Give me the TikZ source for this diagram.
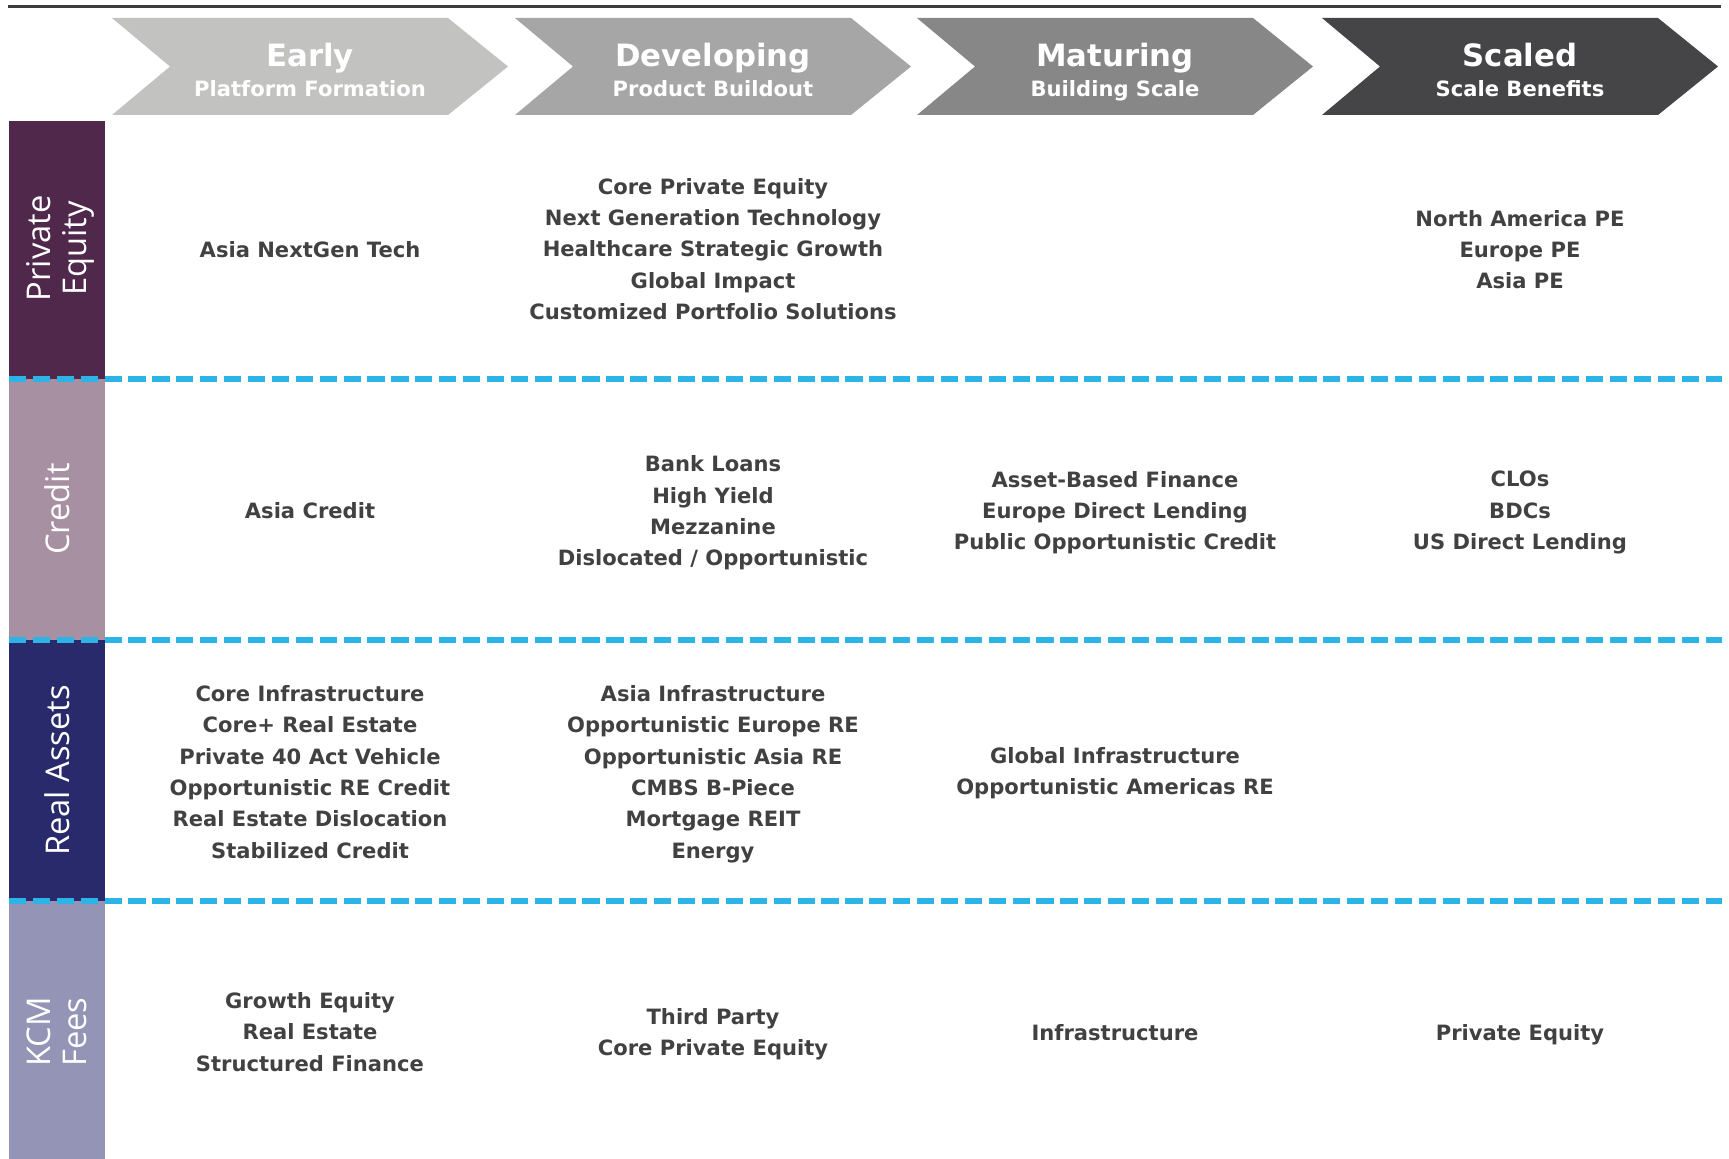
\documentclass[tikz,border=0pt]{standalone}
\usepackage{fontspec}
\setmainfont{DejaVu Sans}
\newfontfamily\sidefont{Open Sans}
\usepackage{tikz}
\usepackage{xcolor}
\definecolor{stageEarly}{HTML}{C2C2C1}
\definecolor{stageDevelop}{HTML}{A6A6A6}
\definecolor{stageMature}{HTML}{878787}
\definecolor{stageScaled}{HTML}{454547}
\definecolor{rowPE}{HTML}{50284B}
\definecolor{rowCredit}{HTML}{A690A2}
\definecolor{rowAssets}{HTML}{292A6B}
\definecolor{rowFees}{HTML}{9394B6}
\definecolor{cellGray}{HTML}{414141}
\definecolor{ruleGray}{HTML}{3C3C3C}
\definecolor{dashBlue}{HTML}{2DB4E7}

\begin{document}
\begin{tikzpicture}
		[x=0.02cm,y=-0.02cm,
		titleDecorate/.style={text=white,anchor=base,inner sep=0pt,font=\bfseries\fontsize{17.5}{20}\selectfont},
		subDecorate/.style={text=white,anchor=base,inner sep=0pt,font=\bfseries\fontsize{12}{14}\selectfont},
		cellDecorate/.style={text=cellGray,align=center,inner sep=0pt,font=\bfseries\fontsize{12}{17.8}\selectfont,
			execute at begin node=\strut,execute at end node=\strut},
		sideDecorate/.style={text=white,rotate=90,align=center,inner sep=0pt,font=\sidefont\fontsize{18.6}{20.2}\selectfont,
			execute at begin node=\strut,execute at end node=\strut},
		dashDecorate/.style={draw=dashBlue,line width=3.1pt,dash pattern=on 9.8pt off 3.8pt}]
		\useasboundingbox (0,0) rectangle (1729,1159);
		%% top rule
		\draw[ruleGray,line width=1.9pt] (8,6.7) -- (1721,6.7);
		%% stage chevrons
		\foreach \stagename/\lx/\col/\head/\tagline in {
			early/112/stageEarly/Early/Platform Formation,
			develop/515/stageDevelop/Developing/Product Buildout,
			mature/917/stageMature/Maturing/Building Scale,
			scaled/1322/stageScaled/Scaled/Scale Benefits}
		{
			\fill[\col] (\lx,18) -- ++(336,0) -- ++(60,48.5) -- ++(-60,48.5) -- ++(-336,0) -- ++(58,-48.5) -- cycle;
			\node[titleDecorate] (\stagename) at (\lx+198,66.7) {\head};
			\node[subDecorate] (sub\stagename) at (\lx+198,96.7) {\tagline};
		}
		%% row labels
		\foreach \rowname/\ytop/\ybot/\col/\ymid/\txt in {
			pe/121/379/rowPE/248.4/Private\\Equity,
			credit/379/640/rowCredit/509/Credit,
			assets/640/901/rowAssets/770.5/Real Assets,
			fees/901/1159/rowFees/1032/KCM\\Fees}
		{
			\fill[\col] (9,\ytop) rectangle (105,\ybot);
			\node[sideDecorate] (\rowname) at (62,\ymid) {\txt};
		}
		%% separators
		\foreach \y in {379,640,901}
		{
			\draw[dashDecorate] (9,\y) -- (1722,\y);
		}
		%% private equity
		\node[cellDecorate] (pe1) at (310,251) {Asia NextGen Tech};
		\node[cellDecorate] (pe2) at (713,253.5) {Core Private Equity\\Next Generation Technology\\Healthcare Strategic Growth\\Global Impact\\Customized Portfolio Solutions};
		\node[cellDecorate] (pe4) at (1520,254) {North America PE\\Europe PE\\Asia PE};
		%% credit
		\node[cellDecorate] (credit1) at (310,512) {Asia Credit};
		\node[cellDecorate] (credit2) at (713,515.5) {Bank Loans\\High Yield\\Mezzanine\\Dislocated / Opportunistic};
		\node[cellDecorate] (credit3) at (1115,515) {Asset-Based Finance\\Europe Direct Lending\\Public Opportunistic Credit};
		\node[cellDecorate] (credit4) at (1520,515) {CLOs\\BDCs\\US Direct Lending};
		%% real assets
		\node[cellDecorate] (assets1) at (310,776.5) {Core Infrastructure\\Core+ Real Estate\\Private 40 Act Vehicle\\Opportunistic RE Credit\\Real Estate Dislocation\\Stabilized Credit};
		\node[cellDecorate] (assets2) at (713,776.5) {Asia Infrastructure\\Opportunistic Europe RE\\Opportunistic Asia RE\\CMBS B-Piece\\Mortgage REIT\\Energy};
		\node[cellDecorate] (assets3) at (1115,775.5) {Global Infrastructure\\Opportunistic Americas RE};
		%% kcm fees
		\node[cellDecorate] (fees1) at (310,1036.5) {Growth Equity\\Real Estate\\Structured Finance};
		\node[cellDecorate] (fees2) at (713,1036.5) {Third Party\\Core Private Equity};
		\node[cellDecorate] (fees3) at (1115,1034) {Infrastructure};
		\node[cellDecorate] (fees4) at (1520,1034) {Private Equity};
	\end{tikzpicture}
\end{document}
